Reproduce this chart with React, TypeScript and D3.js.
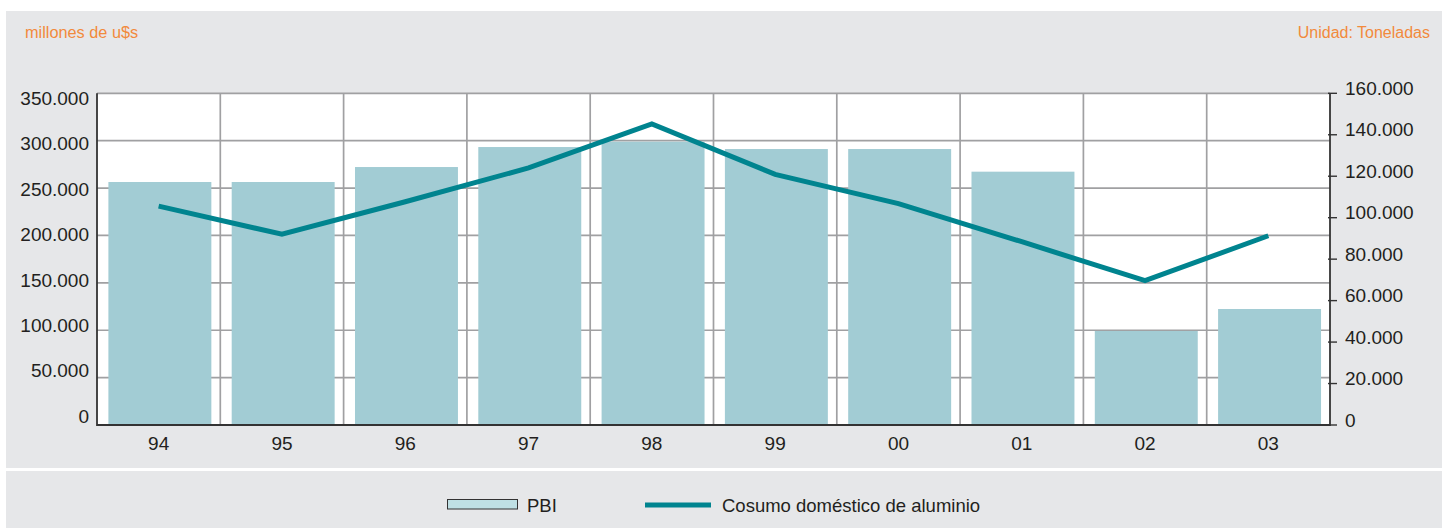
import React from "react";
import * as d3 from "d3";

const categories = ["94", "95", "96", "97", "98", "99", "00", "01", "02", "03"];
const pbi = [256400, 256400, 272200, 293300, 298900, 291200, 291200, 267300, 99200, 122400];
const consumo = [105600, 92000, 107700, 124000, 145200, 120900, 106800, 88400, 69600, 91300];
const leftTicks = [0, 50000, 100000, 150000, 200000, 250000, 300000, 350000];
const rightTicks = [0, 20000, 40000, 60000, 80000, 100000, 120000, 140000, 160000];
const leftUnit = "millones de u$s";
const rightUnit = "Unidad: Toneladas";
const legendBar = "PBI";
const legendLine = "Cosumo doméstico de aluminio";

const W = 1449;
const H = 528;
const PL = 97;
const PR = 1330;
const PT = 93.3;
const PB = 425;

const FONT = "'Liberation Sans', Arial, Helvetica, sans-serif";
const ORANGE = "#f28a3c";
const TEAL = "#00848f";
const BAR = "#a2ccd4";
const GRID = "#a0a0a2";
const TEXT = "#231f20";

const loc = d3.formatLocale({ thousands: ".", decimal: ",", grouping: [3], currency: ["$", ""] });
const fmt = loc.format(",");

export default function App() {
  const x = d3.scaleBand<string>().domain(categories).range([PL, PR]).padding(0);
  const xb = d3
    .scaleBand<string>()
    .domain(categories)
    .range([PL, PR])
    .paddingInner(0.165)
    .paddingOuter(0.0825)
    .align(0.56);
  const yL = d3.scaleLinear().domain([0, 350000]).range([PB, PT]);
  const yLlabel = d3.scaleLinear().domain([0, 350000]).range([422.7, 105]);
  const yR = d3.scaleLinear().domain([0, 160000]).range([PB, PT]);
  const line = d3
    .line<number>()
    .x((_, i) => (x(categories[i]) as number) + x.bandwidth() / 2)
    .y((d) => yR(d));

  return (
    <svg
      width={W}
      height={H}
      style={{ position: "absolute", left: 0, top: 0, display: "block" }}
      fontFamily={FONT}
    >
      <rect x={0} y={0} width={W} height={H} fill="#ffffff" />
      <rect x={6} y={11} width={1436} height={457} fill="#e6e7e9" />
      <rect x={6} y={471} width={1436} height={57} fill="#e6e7e9" />

      <text x={25} y={38} fontSize={16.3} fill={ORANGE}>
        {leftUnit}
      </text>
      <text x={1430} y={38} fontSize={16} fill={ORANGE} textAnchor="end">
        {rightUnit}
      </text>

      <rect x={PL} y={PT} width={PR - PL} height={PB - PT} fill="#ffffff" />

      {leftTicks.map((t) => (
        <line key={"h" + t} x1={PL} x2={PR} y1={yL(t)} y2={yL(t)} stroke={GRID} strokeWidth={1.7} />
      ))}
      {categories.slice(1).map((c) => (
        <line
          key={"v" + c}
          x1={x(c) as number}
          x2={x(c) as number}
          y1={PT}
          y2={PB}
          stroke={GRID}
          strokeWidth={1.7}
        />
      ))}

      {categories.map((c, i) => (
        <rect
          key={"b" + c}
          x={xb(c) as number}
          y={yL(pbi[i])}
          width={xb.bandwidth()}
          height={PB - yL(pbi[i])}
          fill={BAR}
        />
      ))}

      <path d={line(consumo) || ""} fill="none" stroke={TEAL} strokeWidth={5} strokeLinejoin="miter" />

      <line x1={PL} x2={PL} y1={PT} y2={PB + 0.9} stroke="#333" strokeWidth={1.8} />
      <line x1={PR} x2={PR} y1={PT} y2={PB + 0.9} stroke="#333" strokeWidth={1.8} />
      <line x1={PL} x2={PR} y1={PB} y2={PB} stroke="#333" strokeWidth={1.8} />

      {leftTicks.map((t) => (
        <text key={"lt" + t} x={89} y={yLlabel(t)} fontSize={19} fill={TEXT} textAnchor="end">
          {fmt(t)}
        </text>
      ))}
      {rightTicks.map((t) => (
        <g key={"rt" + t}>
          <line x1={PR - 2} x2={PR + 7} y1={yR(t)} y2={yR(t)} stroke="#333" strokeWidth={1.4} />
          <text x={1345} y={yR(t) + 1.5} fontSize={19} fill={TEXT}>
            {fmt(t)}
          </text>
        </g>
      ))}
      {categories.map((c) => (
        <text
          key={"c" + c}
          x={(x(c) as number) + x.bandwidth() / 2}
          y={450}
          fontSize={19}
          fill={TEXT}
          textAnchor="middle"
        >
          {c}
        </text>
      ))}

      <rect x={447.5} y={499.5} width={70} height={9.5} fill="#bfe0e4" stroke="#333" strokeWidth={1} />
      <text x={527} y={511.5} fontSize={18.5} fill={TEXT}>
        {legendBar}
      </text>
      <line x1={645} x2={711} y1={505} y2={505} stroke={TEAL} strokeWidth={5} />
      <text x={722} y={511.5} fontSize={18.5} fill={TEXT}>
        {legendLine}
      </text>
    </svg>
  );
}
